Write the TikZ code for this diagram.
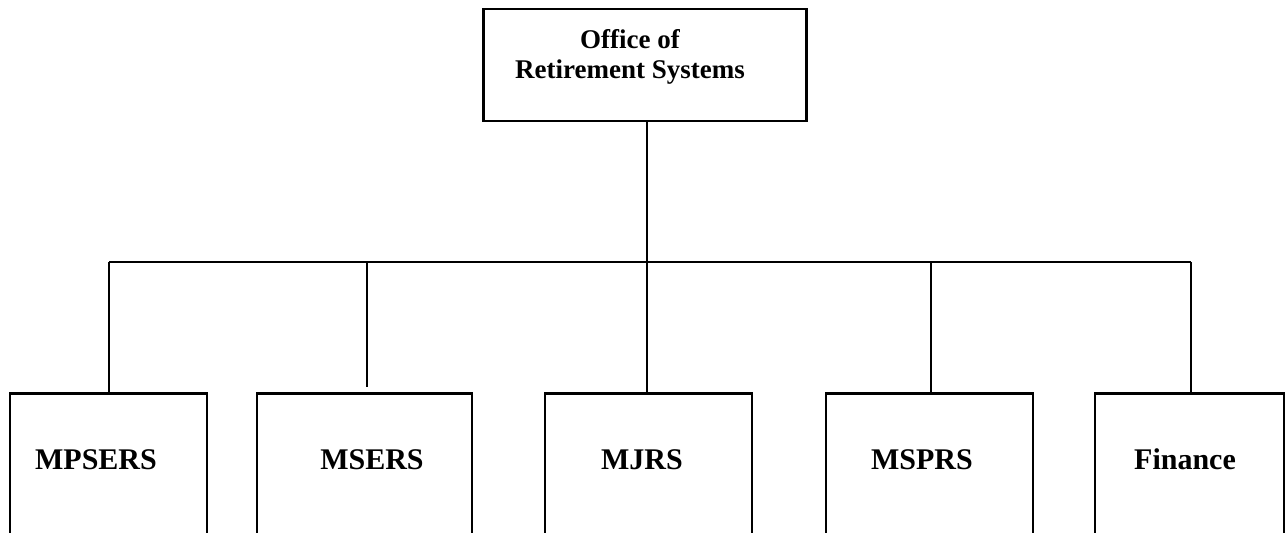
\documentclass[tikz,border=0pt]{standalone}
\usepackage{fontspec}
\setmainfont{Liberation Serif}

\tikzset{
  unitbox/.style={draw,line width=1.4pt,inner sep=0pt},
  unitname/.style={font=\fontsize{15}{18}\selectfont\bfseries,inner sep=0pt,anchor=base},
  link/.style={line width=1.4pt}
}

\begin{document}
\begin{tikzpicture}[x=0.5pt,y=-0.5pt]
  \clip (0,0) rectangle (1287,533);

  % office box
  \node [unitbox,minimum width=161.5pt,minimum height=56pt] (ors) at (645,65) {};
  \node [unitname,anchor=center,font=\fontsize{13.5}{15}\selectfont\bfseries,align=center] (orsname) at (630,57) {Office of\\Retirement Systems};

  % bus
  \coordinate (bus) at (647,262);
  \coordinate (busL) at (109,262);
  \coordinate (busR) at (1191,262);
  \draw [link] (ors.south -| bus) -- (bus);
  \draw [link] (busL) -- (busR);

  % systems (open at the bottom edge)
  \node [unitbox,minimum width=98.5pt,minimum height=100pt,anchor=north] (mpsers) at (108.5,392) {};
  \node [unitbox,minimum width=107.5pt,minimum height=100pt,anchor=north] (msers) at (364.5,392) {};
  \node [unitbox,minimum width=103.5pt,minimum height=100pt,anchor=north] (mjrs) at (648.5,392) {};
  \node [unitbox,minimum width=103.5pt,minimum height=100pt,anchor=north] (msprs) at (929.5,392) {};
  \node [unitbox,minimum width=94.5pt,minimum height=100pt,anchor=north] (fin) at (1189.5,392) {};

  \node [unitname] (mpsersname) at (96,470) {MPSERS};
  \node [unitname] (msersname) at (372,470) {MSERS};
  \node [unitname] (mjrsname) at (642,470) {MJRS};
  \node [unitname] (msprsname) at (922,470) {MSPRS};
  \node [unitname] (finname) at (1185,470) {Finance};

  % drops
  \coordinate (msersend) at (367,387);
  \draw [link] (busL) -- (busL |- mpsers.north);
  \draw [link] (busL -| msersend) -- (msersend);
  \draw [link] (bus) -- (bus |- mjrs.north);
  \draw [link] (931,262) coordinate (dropD) -- (dropD |- msprs.north);
  \draw [link] (busR) -- (busR |- fin.north);
\end{tikzpicture}
\end{document}
